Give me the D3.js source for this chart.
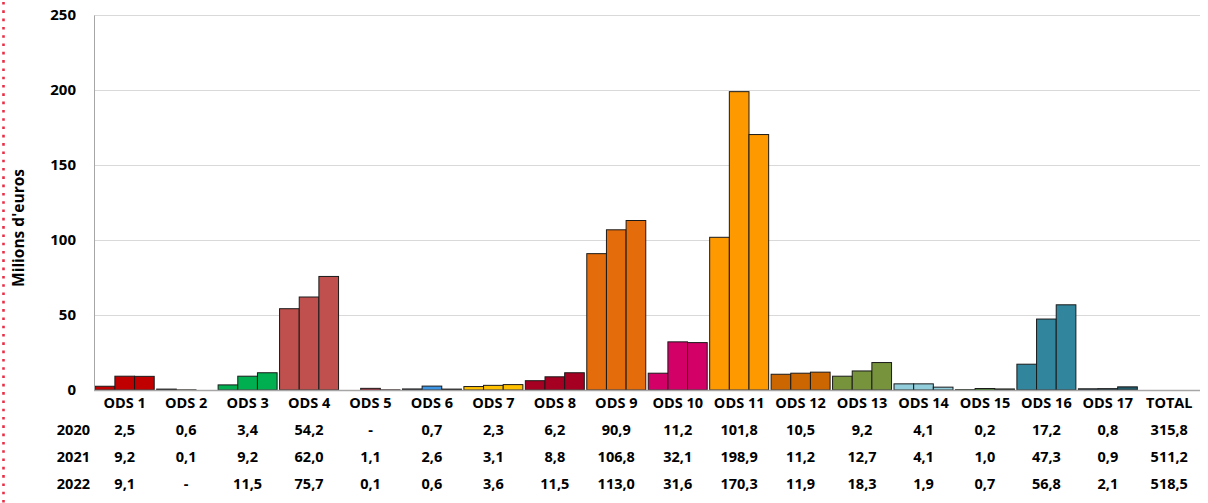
<!DOCTYPE html>
<html>
<head>
<meta charset="utf-8">
<script src="https://cdnjs.cloudflare.com/ajax/libs/d3/7.8.5/d3.min.js"></script>
<style>
    body { margin: 0; background: #fff; }
    svg text { font-family: "Open Sans", Lato, sans-serif; font-weight: bold; fill: #000; }
</style>
</head>
<body>
<svg id="chart" width="1208" height="503"></svg>
<script>
// Données
const CATEGORIES = ['ODS 1', 'ODS 2', 'ODS 3', 'ODS 4', 'ODS 5', 'ODS 6', 'ODS 7', 'ODS 8', 'ODS 9',
    'ODS 10', 'ODS 11', 'ODS 12', 'ODS 13', 'ODS 14', 'ODS 15', 'ODS 16', 'ODS 17', 'TOTAL'];
const YEARS = ['2020', '2021', '2022'];
// null = "-"
const VALUES_2020 = [2.5, 0.6, 3.4, 54.2, null, 0.7, 2.3, 6.2, 90.9, 11.2, 101.8, 10.5, 9.2, 4.1, 0.2, 17.2, 0.8, 315.8];
const VALUES_2021 = [9.2, 0.1, 9.2, 62.0, 1.1, 2.6, 3.1, 8.8, 106.8, 32.1, 198.9, 11.2, 12.7, 4.1, 1.0, 47.3, 0.9, 511.2];
const VALUES_2022 = [9.1, null, 11.5, 75.7, 0.1, 0.6, 3.6, 11.5, 113.0, 31.6, 170.3, 11.9, 18.3, 1.9, 0.7, 56.8, 2.1, 518.5];
const ODS_COLORS = ['#c00000', '#dda63a', '#00b050', '#c0504d', '#e5243b', '#3d95e6', '#ffc000', '#a50021', '#e46c0a',
    '#d20067', '#ff9900', '#cc6600', '#77933c', '#92cddc', '#56c02b', '#31859c', '#215868', '#ffffff'];
const Y_TICKS = [0, 50, 100, 150, 200, 250];

const SERIES = [VALUES_2020, VALUES_2021, VALUES_2022];

const fmt = v => v === null ? '-' : v.toFixed(1).replace('.', ',');

const svg = d3.select('#chart');
const margin = { left: 94, right: 8, top: 15, bottom: 113 };
const W = 1208, H = 503;

const x = d3.scaleBand().domain(CATEGORIES).range([margin.left, W - margin.right]).paddingInner(0.04).paddingOuter(0.02);
const xs = d3.scaleBand().domain(YEARS).range([0, x.bandwidth()]);
const y = d3.scaleLinear().domain([0, 250]).range([H - margin.bottom, margin.top]);

// Ligne pointillée à gauche
svg.append('line')
    .attr('x1', 3.5).attr('x2', 3.5).attr('y1', 2).attr('y2', H)
    .attr('stroke', '#ea2f45').attr('stroke-width', 2.6).attr('stroke-dasharray', '2.6,5.7');

// Grille
svg.append('g').selectAll('line')
    .data(Y_TICKS.filter(d => d > 0))
    .enter().append('line')
    .attr('x1', margin.left).attr('x2', W - margin.right)
    .attr('y1', d => y(d) + 0.5).attr('y2', d => y(d) + 0.5)
    .attr('stroke', '#d9d9d9').attr('stroke-width', 1);

// Barres (TOTAL hors échelle, non tracé)
const plotCats = CATEGORIES.slice(0, 17);
const barG = svg.append('g');
plotCats.forEach((cat, i) => {
    SERIES.forEach((vals, k) => {
        const v = vals[i];
        if (v === null) return;
        barG.append('rect')
            .attr('x', x(cat) + xs(YEARS[k]))
            .attr('y', y(v))
            .attr('width', xs.bandwidth())
            .attr('height', y(0) - y(v))
            .attr('fill', ODS_COLORS[i])
            .attr('stroke', '#1a1a1a')
            .attr('stroke-width', 1);
    });
});

// Axes
const yAxis = svg.append('g')
    .attr('transform', `translate(${margin.left},0)`)
    .call(d3.axisLeft(y).tickValues(Y_TICKS).tickSize(0).tickPadding(18));
yAxis.select('.domain').attr('stroke', '#a6a6a6');
yAxis.selectAll('text').style('font-size', '15px');

svg.append('line')
    .attr('x1', margin.left).attr('x2', W - margin.right)
    .attr('y1', y(0) + 0.5).attr('y2', y(0) + 0.5)
    .attr('stroke', '#a6a6a6').attr('stroke-width', 1.5);

// Titre de l'axe
svg.append('text')
    .attr('transform', `translate(24,228) rotate(-90)`)
    .attr('text-anchor', 'middle')
    .style('font-size', '15.5px')
    .text("Milions d'euros");

// Tableau de données
const rowY = [408, 435, 462, 489];
svg.append('g').selectAll('text')
    .data(CATEGORIES)
    .enter().append('text')
    .attr('x', d => x(d) + x.bandwidth() / 2)
    .attr('y', rowY[0])
    .attr('text-anchor', 'middle')
    .style('font-size', '14.5px')
    .text(d => d);

SERIES.forEach((vals, k) => {
    svg.append('text')
        .attr('x', 90).attr('y', rowY[k + 1])
        .attr('text-anchor', 'end')
        .style('font-size', '14.5px')
        .text(YEARS[k]);
    svg.append('g').selectAll('text')
        .data(vals)
        .enter().append('text')
        .attr('x', (d, i) => x(CATEGORIES[i]) + x.bandwidth() / 2)
        .attr('y', rowY[k + 1])
        .attr('text-anchor', 'middle')
        .style('font-size', '14.5px')
        .text(d => fmt(d));
});
</script>
</body>
</html>
